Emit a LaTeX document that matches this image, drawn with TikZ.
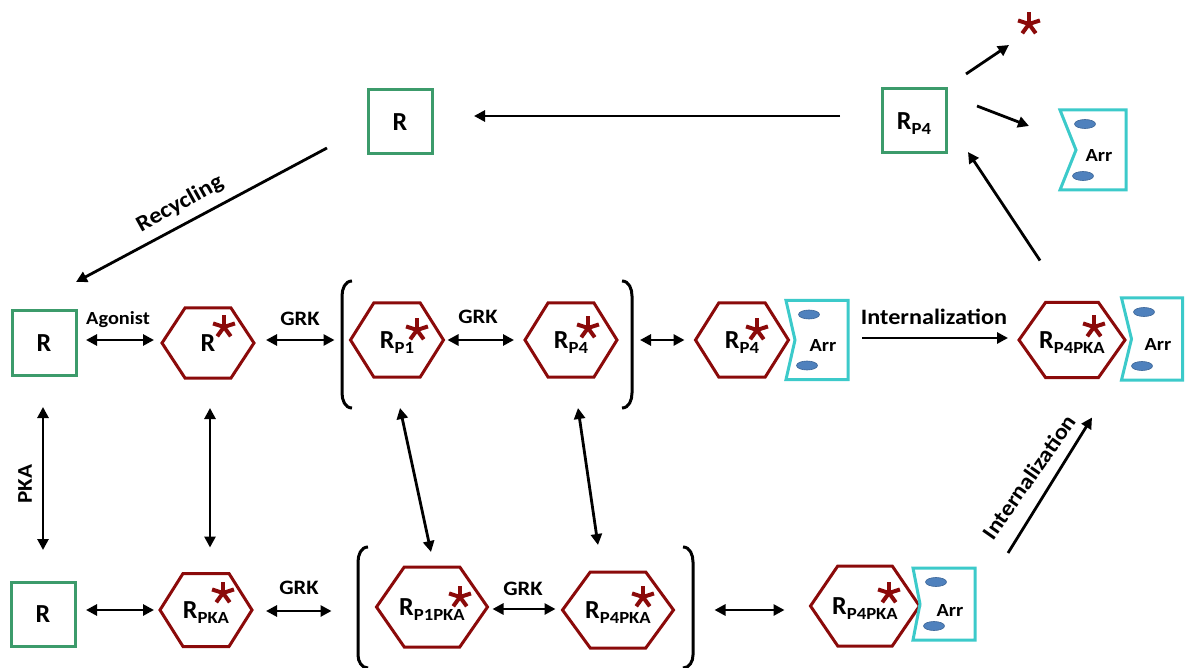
\documentclass[tikz,border=0pt]{standalone}
\usepackage{fontspec}
\setmainfont{Carlito}
\newfontfamily\lbl{Carlito}[FakeStretch=1.1]
\usetikzlibrary{arrows.meta,calc}
\definecolor{gr}{HTML}{3C9B6B}
\definecolor{dred}{HTML}{8B0A0A}
\definecolor{cyn}{HTML}{3CCACA}
\definecolor{ebl}{HTML}{4F81BD}
\definecolor{ebd}{HTML}{3A6496}
\newcommand\Rsub[1]{R{\lbl\fontsize{17}{17}\selectfont\raisebox{-5.5pt}[0pt][0pt]{#1}}}
\newcommand\hexnode[6]{%
 \node[hexn,minimum width=#4pt,minimum height=#5pt] (#1) at (#2,#3) {#6};
 \draw[hexline] (#1.west) -- ($(#1.north west)!0.25!(#1.north east)$) -- ($(#1.north west)!0.75!(#1.north east)$) -- (#1.east) -- ($(#1.south west)!0.75!(#1.south east)$) -- ($(#1.south west)!0.25!(#1.south east)$) -- cycle;}
\newcommand\astar[3]{%
 \coordinate (#1) at (#2,#3);
 \foreach \a in {90,18,162,-54,234} \draw[starline] (#1) -- ++(\a:11.5pt);}
\newcommand\arrshape[6]{%
 \node[arrn,minimum width=#4pt,minimum height=#5pt] (#1) at (#2,#3) {};
 \draw[arrline] (#1.north west) -- (#1.north east) -- (#1.south east) -- (#1.south west) -- ([xshift=#6pt]#1.west) -- cycle;
 \pgfmathsetmacro\eoff{#5/2-14}
 \draw[ellip] ($(#1.center)+(-8,-\eoff)$) ellipse [x radius=10.5pt,y radius=4.5pt];
 \draw[ellip] ($(#1.center)+(-10,\eoff)$) ellipse [x radius=10.5pt,y radius=4.5pt];
 \node[arrtxt] (#1t) at ($(#1.center)+(6,6)$) {Arr};}
\begin{document}
\begin{tikzpicture}[x=1pt,y=-1pt,
 gbox/.style={draw=gr,line width=3pt,minimum width=64pt,minimum height=64pt,inner sep=0pt,outer sep=0pt,font=\bfseries\fontsize{26}{26}\selectfont},
 hexn/.style={inner sep=0pt,outer sep=0pt,font=\bfseries\fontsize{26}{26}\selectfont},
 hexline/.style={draw=dred,line width=3pt,line join=miter},
 starline/.style={draw=dred,line width=4pt},
 arrn/.style={inner sep=0pt,outer sep=0pt},
 arrline/.style={draw=cyn,line width=3pt,line join=miter},
 ellip/.style={fill=ebl,draw=ebd,line width=0.6pt},
 arrtxt/.style={font=\lbl\bfseries\fontsize{18.5}{18.5}\selectfont},
 lab/.style={font=\lbl\bfseries\fontsize{20.5}{20.5}\selectfont},
 conn/.style={line width=2.8pt,-{Triangle[length=11pt,width=11pt]}},
 dconn/.style={line width=2.8pt,{Triangle[length=11pt,width=11pt]}-{Triangle[length=11pt,width=11pt]}},
 brk/.style={draw=black,line width=3pt}]
\useasboundingbox (0,0) rectangle (1186,668);
% top row
\node[gbox] (Rtop) at (400,122) {R};
\node[gbox] (RP4top) at (914,121) {\Rsub{P4}};
\astar{startop}{1029}{24}
\arrshape{Arrtop}{1093}{150}{66}{80}{16}
% middle row
\node[gbox] (R1) at (44,343) {R};
\hexnode{Hs}{208}{343}{92}{70}{R}
\astar{s1}{224}{327}
\hexnode{Hp1}{397}{340}{93}{74}{\Rsub{P1}}
\astar{s2}{417}{330}
\hexnode{Hp4}{571}{340}{92}{74}{\Rsub{P4}}
\astar{s3}{588}{328}
\hexnode{Hp4a}{742}{340}{93}{74}{\Rsub{P4}}
\astar{s4}{757}{330}
\arrshape{Arr1}{817}{340}{62}{79}{9}
\hexnode{Hp4pka}{1072}{340}{106}{75}{\Rsub{P4PKA}}
\astar{s5}{1094}{327}
\arrshape{Arr2}{1152}{339}{61}{82}{10}
% bottom row
\node[gbox] (R2) at (43,614) {R};
\hexnode{Hpka}{206}{610}{92}{73}{\Rsub{PKA}}
\astar{s6}{223}{593}
\hexnode{Hp1pka}{432}{607}{111}{80}{\Rsub{P1PKA}}
\astar{s7}{460}{597}
\hexnode{Hp4pkab}{618}{610}{111}{76}{\Rsub{P4PKA}}
\astar{s8}{643}{597}
\hexnode{Hp4pkac}{865}{606}{109}{80}{\Rsub{P4PKA}}
\astar{s9}{889}{593}
\arrshape{Arr3}{944}{604}{62}{72}{7}
% brackets
\draw[brk] (352,281) to[out=180,in=90] (342,296) -- (342,393) to[out=270,in=180] (352,408);
\draw[brk] (622,281) to[out=0,in=90] (632,296) -- (632,393) to[out=270,in=0] (622,408);
\draw[brk] (368,547) to[out=180,in=90] (358,562) -- (358,655) to[out=270,in=180] (368,668);
\draw[brk] (683,547) to[out=0,in=90] (693,562) -- (693,655) to[out=270,in=0] (683,668);
% connectors
\draw[conn] ([shift={(-42,-5)}]RP4top.west) -- ([shift={(42,-6)}]Rtop.east);
\draw[conn] ([shift={(-41,-6)}]Rtop.south west) -- ([shift={(0,-29)}]R1.north east);
\draw[conn] ([shift={(20,-15)}]RP4top.north east) -- ([shift={(-20,21)}]startop);
\draw[conn] ([shift={(31,-15)}]RP4top.east) -- ([shift={(-31,-24)}]Arrtop.west);
\draw[conn] ([shift={(-32,-42)}]Hp4pka.north) -- ([shift={(22,-1)}]RP4top.south east);
\draw[dconn] ([shift={(10,-3)}]R1.east) -- ([shift={(-8,-3)}]Hs.west);
\draw[dconn] ([shift={(12,-3)}]Hs.east) -- ([shift={(-16,0)}]Hp1.west);
\draw[dconn] ([shift={(4,0)}]Hp1.east) -- ([shift={(-11,0)}]Hp4.west);
\draw[dconn] ([shift={(23,0)}]Hp4.east) -- ([shift={(-11,0)}]Hp4a.west);
\draw[conn] ([shift={(14,-2)}]Arr1.east) -- ([shift={(-11,-2)}]Hp4pka.west);
\draw[dconn] ([shift={(-1,32)}]R1.south) -- ([shift={(0,-32)}]R2.north);
\draw[dconn] ([shift={(2,30)}]Hs.south) -- ([shift={(4,-26)}]Hpka.north);
\draw[dconn] ([shift={(3,31)}]Hp1.south) -- ([shift={(-1,-15)}]Hp1pka.north);
\draw[dconn] ([shift={(7,31)}]Hp4.south) -- ([shift={(-20,-27)}]Hp4pkab.north);
\draw[dconn] ([shift={(11,-4)}]R2.east) -- ([shift={(-6,0)}]Hpka.west);
\draw[dconn] ([shift={(14,1)}]Hpka.east) -- ([shift={(-45,4)}]Hp1pka.west);
\draw[dconn] ([shift={(5,2)}]Hp1pka.east) -- ([shift={(-7,-1)}]Hp4pkab.west);
\draw[dconn] ([shift={(41,0)}]Hp4pkab.east) -- ([shift={(-26,4)}]Hp4pkac.west);
\draw[conn] ([shift={(33,-51)}]Arr3.east) -- ([shift={(20,40)}]Hp4pka.south);
% labels
\node[lab,font=\lbl\bfseries\fontsize{18.5}{18.5}\selectfont] (lago) at (118,320) {Agonist};
\node[lab] (lgrk1) at (300,319) {GRK};
\node[lab] (lgrk2) at (478,317) {GRK};
\node[lab] (lgrk3) at (299,588) {GRK};
\node[lab] (lgrk4) at (523,589) {GRK};
\node[lab,font=\lbl\bfseries\fontsize{22}{22}\selectfont] (lint1) at (934,317) {Internalization};
\node[lab,font=\lbl\bfseries\fontsize{22.5}{22.5}\selectfont,rotate=29] (lrec) at (180,204) {Recycling};
\node[lab,font=\lbl\bfseries\fontsize{22}{22}\selectfont,rotate=55] (lint2) at (1029,477) {Internalization};
\node[lab,font=\lbl\bfseries\fontsize{21}{21}\selectfont,rotate=90] (lpka) at (25,484) {PKA};
\end{tikzpicture}
\end{document}
